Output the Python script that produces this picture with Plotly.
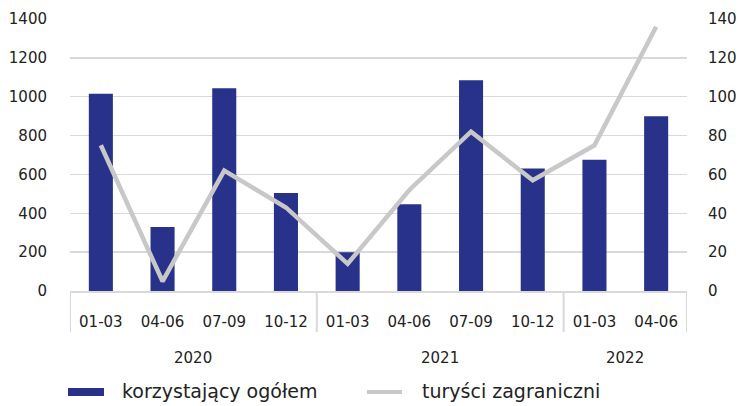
import plotly.graph_objects as go

quarters = ["01-03", "04-06", "07-09", "10-12", "01-03", "04-06", "07-09", "10-12", "01-03", "04-06"]
years = ["2020", "2020", "2020", "2020", "2021", "2021", "2021", "2021", "2022", "2022"]
ogolem = [1015, 330, 1043, 505, 200, 447, 1085, 630, 675, 900]
zagraniczni = [75, 5, 62, 43, 14, 52, 82, 57, 75, 136]

FONT = "DejaVu Sans"
BLUE = "#28328a"
GREY = "#c8c8c8"
AX = "#d9d9d9"

W, H = 742, 406
L, R, T, B = 70, 742 - 687, 19, 406 - 291
PW, PH = W - L - R, H - T - B

def px(x):
    return (x - L) / PW

def py(y):
    return (H - B - y) / PH

idx = list(range(len(quarters)))

fig = go.Figure()
fig.add_trace(go.Bar(x=idx, y=ogolem, marker=dict(color=BLUE, line=dict(width=0)),
                     name="korzystający ogółem", showlegend=False))
fig.add_trace(go.Scatter(x=idx, y=zagraniczni, yaxis="y2", mode="lines",
                         line=dict(color=GREY, width=4.5), name="turyści zagraniczni",
                         showlegend=False))

shapes = []
annotations = []
groups = []
for i, yv in enumerate(years):
    if not groups or groups[-1][0] != yv:
        groups.append([yv, i, i])
    else:
        groups[-1][2] = i
bounds = [g[1] - 0.5 for g in groups] + [groups[-1][2] + 0.5]
for b in bounds:
    shapes.append(dict(type="line", xref="x", yref="paper", x0=b, x1=b,
                       y0=0, y1=py(332), line=dict(color=AX, width=2)))
for yv, a, z in groups:
    annotations.append(dict(x=(a + z) / 2, y=py(358), xref="x", yref="paper",
                            text=yv, showarrow=False, yanchor="middle",
                            font=dict(family=FONT, size=15, color="#222")))
shapes.append(dict(type="rect", xref="paper", yref="paper", x0=px(68), x1=px(104),
                   y0=py(396), y1=py(388), fillcolor=BLUE, line=dict(width=0)))
shapes.append(dict(type="line", xref="paper", yref="paper", x0=px(367), x1=px(402),
                   y0=py(392), y1=py(392), line=dict(color=GREY, width=4)))
annotations.append(dict(x=px(120), y=py(391), xref="paper", yref="paper",
                        text="korzystający ogółem", showarrow=False, xanchor="left",
                        yanchor="middle", font=dict(family=FONT, size=19, color="#222")))
annotations.append(dict(x=px(420), y=py(391), xref="paper", yref="paper",
                        text="turyści zagraniczni", showarrow=False, xanchor="left",
                        yanchor="middle", font=dict(family=FONT, size=19, color="#222")))

fig.update_layout(
    width=W, height=H,
    margin=dict(l=L, r=R, t=T, b=B, autoexpand=False),
    plot_bgcolor="white", paper_bgcolor="white",
    bargap=0.61,
    hovermode=False,
    font=dict(family=FONT, size=15, color="#222"),
    xaxis=dict(tickmode="array", tickvals=idx, ticktext=quarters, range=[-0.5, 9.5],
               showgrid=False, zeroline=False, showline=True, linecolor=AX, linewidth=2,
               ticks="", ticklabelstandoff=16, tickfont=dict(size=15), automargin=False),
    yaxis=dict(range=[0, 1400], dtick=200, showgrid=True, gridcolor=AX, gridwidth=1.5,
               zeroline=False, ticks="", ticklabelstandoff=22, tickfont=dict(size=15),
               automargin=False),
    yaxis2=dict(range=[0, 140], dtick=20, overlaying="y", side="right", showgrid=False,
                zeroline=False, ticks="", ticklabelstandoff=20, tickfont=dict(size=15),
                automargin=False),
    shapes=shapes, annotations=annotations,
)

fig.write_html("out.html", config={"displayModeBar": False, "staticPlot": True},
               post_script="document.body.style.margin='0';document.body.style.overflow='hidden';")
